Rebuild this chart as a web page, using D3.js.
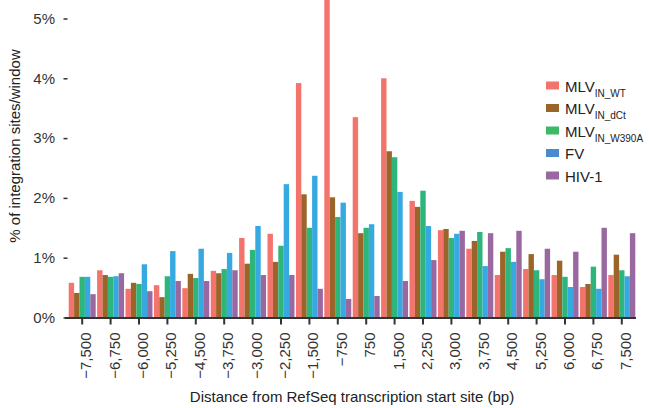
<!DOCTYPE html>
<html>
<head>
<meta charset="utf-8">
<script src="https://cdn.jsdelivr.net/npm/d3@7"></script>
<style>
  body { margin: 0; background: #fff; }
  text { font-family: "Liberation Sans", Arial, sans-serif; }
</style>
</head>
<body>
<div id="chart"></div>
<script>
// distance bins (bp)
const bins = [-7500, -6750, -6000, -5250, -4500, -3750, -3000, -2250, -1500, -750,
              750, 1500, 2250, 3000, 3750, 4500, 5250, 6000, 6750, 7500];

const seriesNames = ["MLV_IN_WT", "MLV_IN_dCt", "MLV_IN_W390A", "FV", "HIV-1"];

// % of integration sites per window
const mlvWT    = [0.58, 0.79, 0.48, 0.54, 0.49, 0.78, 1.33, 1.40, 3.92, 5.60,
                  3.35, 4.00, 1.95, 1.46, 1.15, 0.71, 0.81, 0.71, 0.51, 0.71];
const mlvDCt   = [0.41, 0.71, 0.58, 0.34, 0.73, 0.74, 0.90, 0.93, 2.06, 2.01,
                  1.41, 2.78, 1.85, 1.48, 1.28, 1.10, 1.06, 0.95, 0.56, 1.05];
const mlvW390A = [0.68, 0.68, 0.56, 0.69, 0.66, 0.81, 1.13, 1.20, 1.50, 1.68,
                  1.50, 2.68, 2.12, 1.33, 1.43, 1.16, 0.79, 0.68, 0.85, 0.79];
const fv       = [0.68, 0.69, 0.89, 1.11, 1.15, 1.08, 1.53, 2.23, 2.37, 1.92,
                  1.56, 2.10, 1.53, 1.40, 0.86, 0.93, 0.64, 0.51, 0.48, 0.69];
const hiv      = [0.39, 0.74, 0.44, 0.61, 0.61, 0.79, 0.71, 0.71, 0.48, 0.31,
                  0.36, 0.61, 0.96, 1.45, 1.41, 1.45, 1.15, 1.10, 1.50, 1.41];

const yTicks = [0, 1, 2, 3, 4, 5];

const colors = ["#F3736D", "#9B6428", "#2DB57C", "#36A9E1", "#9A68A0"];
// the legend keys are drawn a little differently in the original
const legendColors = ["#F3736D", "#9B6428", "#3DB863", "#4A8BD0", "#9A68A0"];

const allSeries = [mlvWT, mlvDCt, mlvW390A, fv, hiv];

const W = 649, H = 408;

const svg = d3.select("#chart").append("svg")
    .attr("width", W)
    .attr("height", H);

const x = d3.scaleBand()
    .domain(bins)
    .range([68, 636])
    .paddingInner(0.05)
    .paddingOuter(0.025);

const xs = d3.scaleBand()
    .domain(d3.range(seriesNames.length))
    .range([0, x.bandwidth()]);

const y = d3.scaleLinear()
    .domain([0, 5])
    .range([317.5, 18.5]);

// bars
const rows = [];
bins.forEach((b, i) => {
    allSeries.forEach((s, j) => rows.push({bin: b, s: j, v: s[i]}));
});

svg.append("g").selectAll("rect")
    .data(rows)
    .join("rect")
    .attr("x", d => x(d.bin) + xs(d.s))
    .attr("width", xs.bandwidth())
    .attr("y", d => y(d.v))
    .attr("height", d => y(0) - y(d.v))
    .attr("fill", d => colors[d.s]);

// y axis (ticks only, detached)
const yAxis = svg.append("g").attr("transform", "translate(68,0)")
    .call(d3.axisLeft(y).tickValues(yTicks).tickFormat(d => d + "%").tickSize(4).tickPadding(9));
yAxis.select(".domain").remove();
yAxis.selectAll(".tick line").attr("stroke", "#333").attr("stroke-width", 1.5).attr("transform", "translate(-0.5,0)");
yAxis.selectAll(".tick text").attr("font-size", 15).attr("fill", "#333");

// x axis
const xAxis = svg.append("g").attr("transform", `translate(0,${y(0)})`)
    .call(d3.axisBottom(x).tickFormat(d3.format(",")).tickSize(7).tickSizeOuter(0));
xAxis.select(".domain").attr("d", "M65,0.5H636").attr("stroke", "#333").attr("stroke-width", 2);
xAxis.selectAll(".tick line").attr("stroke", "#333").attr("stroke-width", 2);
xAxis.selectAll(".tick text")
    .attr("font-size", 15)
    .attr("fill", "#333")
    .attr("text-anchor", "end")
    .attr("transform", "rotate(-90)")
    .attr("x", -15)
    .attr("y", 0)
    .attr("dy", "0.6em");

// axis titles
svg.append("text")
    .attr("x", 352).attr("y", 402)
    .attr("text-anchor", "middle")
    .attr("font-size", 15)
    .attr("fill", "#222")
    .text("Distance from RefSeq transcription start site (bp)");

svg.append("text")
    .attr("transform", "translate(20,146) rotate(-90)")
    .attr("text-anchor", "middle")
    .attr("font-size", 15)
    .attr("fill", "#222")
    .text("% of integration sites/window");

// legend
const legend = svg.append("g").attr("transform", "translate(546,0)");
const item = legend.selectAll("g")
    .data(seriesNames)
    .join("g")
    .attr("transform", (d, i) => `translate(0,${85.5 + i * 22.5})`);

item.append("rect")
    .attr("x", 0).attr("y", -4).attr("width", 13).attr("height", 8)
    .attr("fill", (d, i) => legendColors[i]);

item.append("text")
    .attr("x", 19).attr("y", 6)
    .attr("font-size", 15)
    .attr("fill", "#222")
    .each(function (d) {
        const t = d3.select(this);
        const parts = d.split("_");
        if (parts.length > 1 && parts[0] === "MLV") {
            t.append("tspan").text(parts[0]);
            t.append("tspan").attr("font-size", 10).attr("dy", 5).text(parts.slice(1).join("_"));
        } else {
            t.text(d);
        }
    });
</script>
</body>
</html>
